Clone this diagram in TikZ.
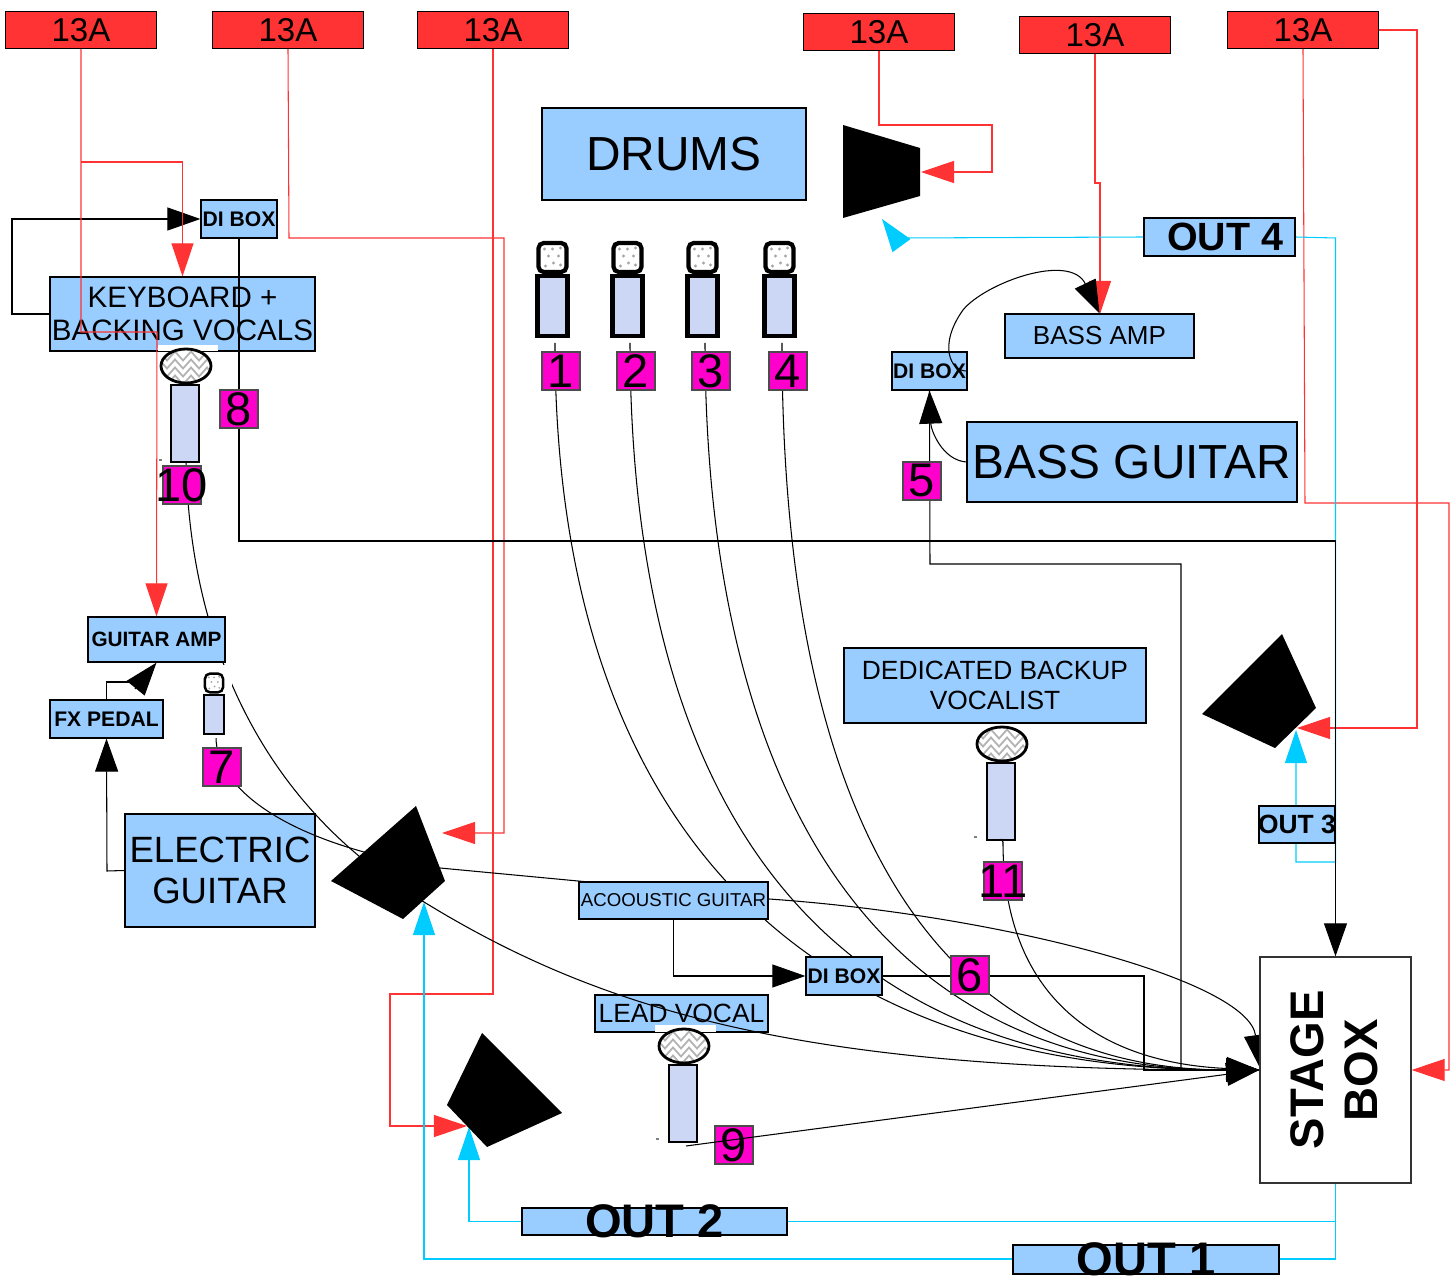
\documentclass[tikz,border=0pt]{standalone}
\usepackage{fontspec}
\setmainfont{Liberation Sans}
\usetikzlibrary{arrows.meta, backgrounds, decorations.pathmorphing}
\definecolor{boxblue}{HTML}{99CCFF}
\definecolor{tagpink}{HTML}{FF00CC}
\definecolor{wirered}{HTML}{FF3333}
\definecolor{wirecyan}{HTML}{00CCFF}
\definecolor{micbody}{HTML}{CCD6F5}
\newcommand{\setsz}[2]{\fontsize{#1pt}{#2pt}\selectfont}
\newcommand{\flatlabel}[1]{\smash{\makebox[0pt]{\raisebox{-0.5\height}{#1}}}}
\tikzset{
	bluebox/.style={draw, fill=boxblue, line width=.35pt, inner sep=0pt, align=center}
}
\tikzset{
	boldbox/.style={bluebox, font=\bfseries\setsz{6}{7}}
}
\tikzset{
	powerbox/.style={draw, fill=wirered, line width=.35pt, inner sep=0pt, minimum width=1.51cm, minimum height=.37cm, font=\setsz{9.4}{11}}
}
\tikzset{
	tagbox/.style={draw=black!70, fill=tagpink, line width=.3pt, inner sep=0pt, minimum width=.38cm, minimum height=.38cm, font=\setsz{13.4}{15}}
}
\tikzset{
	wire/.style={line width=.3pt},
	blackwire/.style={wire, -{Triangle[length=3.3mm,width=2.3mm]}},
	redwire/.style={wire, draw=wirered, -{Triangle[length=3.3mm,width=2.2mm,fill=wirered]}},
	cyanwire/.style={wire, draw=wirecyan, -{Triangle[length=3.3mm,width=2.2mm,fill=wirecyan]}},
	speaker/.style={fill=black},
	micline/.style={line width=1.2pt},
	thinmicline/.style={line width=.7pt}
}
\tikzset{
	vocalmic/.pic={
		\draw[line width=.85pt, fill=micbody] (-14,0) rectangle (14,77);
		\begin{scope}
			\clip (1,-19) ellipse (25 and 17);
			\fill[white] (-30,-40) rectangle (30,0);
			\foreach \h in {-29,-21,-13,-5} {
				\draw[gray!60, line width=.5pt, decorate, decoration={zigzag, segment length=1.6mm, amplitude=.45mm}] (-30,\h) -- (32,\h);
			}
		\end{scope}
		\draw[line width=.8pt] (1,-19) ellipse (25 and 17);
	},
	drummic/.pic={
		\draw[fill=micbody] (-15,0) rectangle (15,60);
		\draw[fill=white, rounded corners=1.5pt] (-14,-4) rectangle (14,-33);
		\foreach \a/\b in {-7/-10, 0/-27, 6/-20, -4/-20, 8/-11, 1/-13, -8/-27, 8/-28} {
			\fill[gray!70] (\a,\b) circle (1.6);
		}
	}
}

\begin{document}
\begin{tikzpicture}[x=.01cm, y=-.01cm]
  \useasboundingbox (0,0) rectangle (1453,1279);
  \foreach \n/\x/\y in {1/81/30, 2/288/30, 3/493/30, 4/879/32, 5/1095/35, 6/1303/30} {
    \node[powerbox] (power\n) at (\x,\y) {13A};
  }
  \node[bluebox, minimum width=2.64cm, minimum height=.92cm, font=\setsz{13.6}{15}] (drums) at (674,154) {DRUMS};
  \node[boldbox, minimum width=.76cm, minimum height=.38cm] (ditop) at (239,219) {DI BOX};
  \node[bluebox, minimum width=2.65cm, minimum height=.74cm, font=\setsz{8.4}{9.4}] (keyboard) at (182.5,314) {KEYBOARD +\\BACKING VOCALS};
  \node[bluebox, minimum width=1.89cm, minimum height=.44cm, font=\setsz{7.4}{8}] (bassamp) at (1099.5,336) {BASS AMP};
  \node[boldbox, minimum width=.75cm, minimum height=.38cm] (dibass) at (929.5,371) {DI BOX};
  \node[bluebox, minimum width=3.30cm, minimum height=.80cm, font=\setsz{13.6}{15}] (bassguitar) at (1132,462) {BASS GUITAR};
  \node[bluebox, minimum width=1.51cm, minimum height=.38cm, font=\bfseries\setsz{11.2}{12}] (outfour) at (1219.5,237) {\hspace*{.11cm}OUT 4};
  \node[boldbox, minimum width=1.37cm, minimum height=.45cm, font=\bfseries\setsz{5.9}{7}] (guitaramp) at (156.5,639.5) {GUITAR AMP};
  \node[boldbox, minimum width=1.13cm, minimum height=.38cm] (fxpedal) at (106.5,719) {FX PEDAL};
  \node[bluebox, minimum width=1.90cm, minimum height=1.13cm, font=\setsz{10.4}{11.7}] (electric) at (220,870.5) {ELECTRIC\\GUITAR};
  \node[bluebox, minimum width=1.89cm, minimum height=.37cm, font=\setsz{5.3}{6.5}] (acoustic) at (673.5,900.5) {ACOOUSTIC GUITAR};
  \node[boldbox, minimum width=.76cm, minimum height=.38cm] (dilow) at (844,976) {DI BOX};
  \node[bluebox, minimum width=1.73cm, minimum height=.37cm, font=\setsz{7.5}{9}] (leadvocal) at (681.5,1013.5) {LEAD VOCAL};
  \node[bluebox, minimum width=3.02cm, minimum height=.75cm, font=\setsz{7.5}{8.3}] (backup) at (995,685.5) {DEDICATED BACKUP\\VOCALIST};
  \node[bluebox, minimum width=.76cm, minimum height=.37cm, font=\bfseries\setsz{7.5}{9}] (outthree) at (1297,824.5) {\flatlabel{OUT 3}};
  \node[bluebox, minimum width=2.65cm, minimum height=.27cm, font=\bfseries\setsz{13.4}{15}] (outtwo) at (654.5,1221.5) {\flatlabel{OUT 2}};
  \node[bluebox, minimum width=2.66cm, minimum height=.29cm, font=\bfseries\setsz{13.4}{15}] (outone) at (1146,1259.5) {\flatlabel{OUT 1}};
  \node[draw=black!80, fill=white, line width=.35pt, minimum width=1.51cm, minimum height=2.26cm, inner sep=0pt, font=\bfseries\setsz{13.4}{15.6}] (stagebox) at (1335.5,1070) {\hspace*{.08cm}\rotatebox{90}{\begin{tabular}{@{}c@{}}STAGE\\BOX\end{tabular}}};

  \coordinate (mic10) at (186,462);
  \coordinate (mic11) at (1003,842);
  \coordinate (mic9) at (686,1146);
  \coordinate (mic7) at (216,737);

  \draw[redwire] (power1.south) -- (81,332) -- (157,332) -- (guitaramp.north);
  \draw[redwire] (81,162) -- (182.5,162) -- (keyboard.north);
  \draw[wire] (ditop.south) -- (239,541) -- (1335.5,541);
  \draw[blackwire] (1335.5,541) -- (stagebox.north);
  \draw[wire, -{Triangle[length=3.3mm,width=2.3mm]}] (dibass.east) .. controls (950,372) and (938,345) .. (963,310) .. controls (985,283) and (1070,252) .. (bassamp.north);
  \draw[wire] (mic7) .. controls (216,790) and (290,845) .. (440,868);

  \foreach \n/\x/\y in {1/561/371, 2/636/371, 3/711/371, 4/788/371} {
    \pic[micline] at (\x-8.5,276) {drummic};
    \coordinate (mic\n) at (\x-6,343);
    \node[tagbox] (tag\n) at (\x,\y) {\makebox[0pt]{\n}};
  }
  \foreach \n/\x/\y in {5/922/481, 6/970/975, 7/222/767, 8/239/409, 9/734/1145, 10/182/485, 11/1003/881} {
    \node[tagbox] (tag\n) at (\x,\y) {\makebox[0pt]{\n}};
  }

  \fill[white] (158,345) rectangle (218,351);
  \fill[white] (655,1025) rectangle (716,1032);
  \pic at (185,385) {vocalmic};
  \pic at (1001,763) {vocalmic};
  \pic at (683,1065) {vocalmic};
  \fill[white] (203,665) rectangle (232,738);
  \pic[scale=.65, thinmicline] at (214,695) {drummic};
  \draw[wire] (1001,839) -- (mic11);
  \foreach \a/\b in {159/460, 974/837, 656/1139} {
    \draw[wire, gray] (\a,\b) -- ++(3,0);
  }

  \fill[speaker] (843,125) -- (920,148) -- (920,196) -- (843,218) -- cycle;
  \fill[speaker] (416,806) -- (445,881) -- (403,919) -- (331,881) -- cycle;
  \fill[speaker] (1282,634) -- (1316,708) -- (1275,748) -- (1202,714) -- cycle;
  \fill[speaker] (482,1033) -- (562,1113) -- (487,1147) -- (447,1105) -- cycle;
  \coordinate (spktop) at (882,219);
  \coordinate (spkleft) at (424,902);
  \coordinate (spkright) at (1296,730);
  \coordinate (spklow) at (469,1127);

  \draw[blackwire] (424,902) .. controls (600,1010) and (800,1070) .. (stagebox.west);
  \draw[blackwire] (mic9) -- (stagebox.west);

  \begin{pgfonlayer}{background}
    \draw[redwire] (power2.south) -- (289,238) -- (504,238) -- (504,833) -- (442,833);
    \draw[redwire] (power3.south) -- (493,994) -- (390,994) -- (390,1126) -- (467,1126);
    \draw[redwire] (power4.south) -- (879,125) -- (992,125) -- (992,172) -- (921,172);
    \draw[redwire] (power5.south) -- (1095,183) -- (1100,183) -- (1100,314);
    \draw[redwire] (power6.south) -- (1305,503) -- (1449,503) -- (1449,1070) -- (stagebox.east);
    \draw[redwire] (power6.east) -- (1417,30) -- (1417,728) -- (1297,728);

    \draw[cyanwire] (stagebox.south) |- (outtwo.east) -- (outtwo.west) -| (spklow);
    \draw[cyanwire] (stagebox.south) |- (1279,1259) -- (1013,1259) -| (spkleft);
    \draw[cyanwire] (outfour.east) -- (1335.5,238) -- (1335.5,862) -- (1296,862) -- (spkright);
    \draw[wire, draw=wirecyan] (outfour.west) -- (901,238);
    \draw[cyanwire] (901,245) -- (spktop);

    \draw[blackwire] (keyboard.west) -- (12,314) -- (12,219) -- (ditop.west);
    \draw[blackwire] (bassguitar.west) .. controls (942,460) and (931,430) .. (dibass.south);
    \draw[blackwire] (dibass.south) -- (930,564) -- (1181,564) -- (1181,1070) -- (stagebox.west);
    \draw[blackwire] (electric.west) -- (107,871) -- (fxpedal.south);
    \draw[wire] (fxpedal.north) |- (133,682);
    \draw[blackwire] (135,689) -- (guitaramp.south);
    \draw[blackwire] (acoustic.south) |- (dilow.west);
    \draw[blackwire] (dilow.east) -- (1144,976) -- (1144,1070) -- (stagebox.west);

    \draw[blackwire] (mic1) .. controls (555,790) and (770,1070) .. (stagebox.west);
    \draw[blackwire] (mic2) .. controls (631,780) and (800,1070) .. (stagebox.west);
    \draw[blackwire] (mic3) .. controls (706,770) and (860,1070) .. (stagebox.west);
    \draw[blackwire] (mic4) .. controls (782,760) and (900,1070) .. (stagebox.west);
    \draw[blackwire] (mic11) .. controls (1003,985) and (1085,1062) .. (stagebox.west);
    \draw[wire] (mic10) .. controls (190,640) and (260,805) .. (424,902);
    \draw[wire] (440,868) -- (769,899);
    \draw[blackwire] (769,899) .. controls (1000,915) and (1248,980) .. (1260,1068);
  \end{pgfonlayer}
\end{tikzpicture}
\end{document}
